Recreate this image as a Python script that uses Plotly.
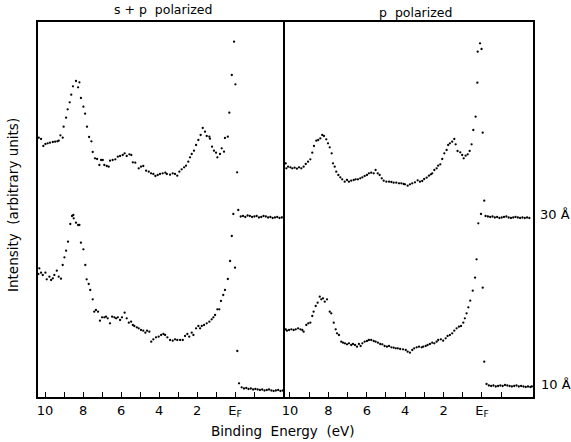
import plotly.graph_objects as go

# ---------------- data (binding energy in eV, intensity in arbitrary units) ----------------
# s+p polarized, 30 A
sp30_E = [10.33, 10.21, 10.09, 9.98, 9.86, 9.74, 9.59, 9.47, 9.35, 9.28, 9.19, 9.07, 9.02, 8.89, 8.81,
          8.70, 8.62, 8.53, 8.37, 8.26, 8.19, 8.11, 7.98, 7.89, 7.79, 7.68, 7.56, 7.49, 7.37, 7.26,
          7.14, 7.05, 6.96, 6.88, 6.75, 6.65, 6.58, 6.44, 6.30, 6.17, 6.05, 5.91, 5.81, 5.70, 5.56,
          5.46, 5.38, 5.25, 5.07, 4.95, 4.83, 4.68, 4.54, 4.42, 4.30, 4.19, 4.07, 3.95, 3.81, 3.67,
          3.59, 3.42, 3.28, 3.16, 3.04, 2.93, 2.81, 2.68, 2.58, 2.46, 2.37, 2.28, 2.16, 2.05, 1.93,
          1.81, 1.70, 1.58, 1.49, 1.35, 1.32, 1.21, 1.11, 1.00, 0.93, 0.79, 0.70, 0.58, 0.53, 0.38,
          0.30, 0.17, 0.05, -0.02, -0.11, -0.17,
          -0.30, -0.42, -0.54, -0.66, -0.78, -0.90, -1.02, -1.14, -1.26, -1.38, -1.50, -1.62, -1.74,
          -1.86, -1.98, -2.10, -2.22, -2.34, -2.46, -2.56]
sp30_I = [262.3, 261, 254, 256, 256.7, 257.3, 258, 258.3, 258.7, 259.3, 264.7, 262.3, 273.3, 282.3, 290.7,
          297.7, 305.3, 313.7, 319, 312.7, 317.7, 302, 293.3, 286.3, 273.3, 263, 258.7, 248, 241.7, 241,
          235, 240, 240, 235, 234, 233.3, 239.3, 240, 240.7, 243.3, 244, 245, 246.7, 244, 245.7,
          245, 237.7, 237.3, 231.7, 233.3, 234, 229.3, 228.3, 226.7, 226, 224, 225, 226, 226.7, 227.3,
          226, 225.3, 226.7, 226, 224.3, 228.3, 230.7, 232.7, 234.3, 238.3, 242.7, 246, 249.3, 255, 260,
          265, 272, 268.3, 264, 263.3, 261.3, 253.3, 249.3, 247.3, 242.7, 246, 251.7, 248.3, 262, 263.3,
          287.3, 325, 358.3, 315.7, 227.7, 190,
          183.5, 184, 183, 184.5, 184, 183, 183.5, 184, 182.5, 183, 184, 183.5, 182.5,
          183, 182, 182.5, 183, 182, 182.5, 183]

# s+p polarized, 10 A
sp10_E = [10.35, 10.30, 10.21, 10.12, 9.98, 9.91, 9.77, 9.68, 9.59, 9.51, 9.38, 9.28, 9.16, 9.07, 8.98,
          8.89, 8.79, 8.67, 8.58, 8.51, 8.49, 8.37, 8.26, 8.19, 8.11, 7.98, 7.88, 7.81, 7.70, 7.62,
          7.49, 7.41, 7.32, 7.21, 7.11, 7.00, 6.88, 6.79, 6.70, 6.58, 6.47, 6.35, 6.26, 6.17, 6.05,
          5.95, 5.81, 5.70, 5.59, 5.47, 5.38, 5.30, 5.17, 5.07, 4.95, 4.83, 4.72, 4.63, 4.51, 4.41,
          4.30, 4.16, 4.02, 3.89, 3.77, 3.68, 3.56, 3.42, 3.28, 3.16, 3.04, 2.89, 2.75, 2.63, 2.51,
          2.41, 2.28, 2.19, 2.05, 1.93, 1.84, 1.75, 1.63, 1.49, 1.35, 1.23, 1.14, 1.05, 0.93, 0.83,
          0.74, 0.62, 0.53, 0.38, 0.26, 0.17, 0.09, 0.00, -0.12, -0.21, -0.35,
          -0.47, -0.59, -0.71, -0.83, -0.95, -1.07, -1.19, -1.31, -1.43, -1.55, -1.67, -1.79, -1.91,
          -2.03, -2.15, -2.27, -2.39, -2.51, -2.58]
sp10_I = [126, 131.7, 127.3, 125, 127.3, 120.7, 123.3, 120, 121.7, 125, 129.3, 123.3, 121.3, 135, 142.7,
          149.3, 158.3, 176, 184, 185, 181.7, 177.3, 175, 175, 157.3, 150.7, 135, 120.7, 116, 110,
          100.7, 88.3, 90, 88.3, 79.3, 82.7, 82.7, 83.3, 81.7, 76.7, 83.3, 82.7, 81.7, 82.7, 80,
          82.7, 87.3, 81.7, 77.3, 78.3, 75, 74, 72.7, 71.7, 70, 69.3, 67.3, 69.3, 68.3, 58.3,
          60.7, 62.7, 63.3, 65, 66, 65, 62.7, 60, 59.3, 60.7, 60, 60, 60, 64, 66,
          63.3, 67.3, 65, 71.7, 74, 71.7, 74, 75, 76.7, 78.3, 80.7, 82.7, 85, 90.7, 90.7,
          99, 105, 110, 121, 139, 164, 186, 132.3, 49, 16.7, 12.7,
          11.5, 12, 11, 11.5, 10.5, 11, 10.5, 10, 10.5, 9.5, 10, 10.5, 9.5,
          9, 9.5, 10, 9, 9.5, 9]

# p polarized, 30 A
p30_E = [10.22, 10.19, 10.10, 9.98, 9.88, 9.76, 9.64, 9.53, 9.41, 9.29, 9.18, 9.06, 8.94, 8.84, 8.75,
         8.63, 8.53, 8.42, 8.32, 8.23, 8.11, 8.02, 7.93, 7.83, 7.76, 7.67, 7.59, 7.48, 7.38, 7.28,
         7.15, 7.03, 6.93, 6.81, 6.68, 6.58, 6.46, 6.34, 6.23, 6.11, 5.99, 5.89, 5.77, 5.64, 5.54,
         5.43, 5.33, 5.22, 5.12, 4.98, 4.84, 4.72, 4.60, 4.46, 4.32, 4.20, 4.08, 4.01, 3.87, 3.75,
         3.63, 3.49, 3.35, 3.23, 3.11, 3.01, 2.88, 2.76, 2.66, 2.59, 2.48, 2.36, 2.28, 2.17, 2.07,
         1.96, 1.84, 1.76, 1.67, 1.55, 1.44, 1.37, 1.27, 1.13, 1.03, 0.95, 0.85, 0.74, 0.64, 0.54,
         0.45, 0.33, 0.24, 0.22, 0.10, 0.02, -0.04, -0.12, -0.19,
         -0.31, -0.43, -0.55, -0.67, -0.79, -0.91, -1.03, -1.15, -1.27, -1.39, -1.51, -1.63, -1.75,
         -1.87, -1.99, -2.11, -2.23, -2.35, -2.47, -2.59]
p30_I = [236.7, 231.7, 233.3, 232.7, 231.7, 232.3, 231.3, 232.7, 231.7, 233.3, 236, 238.3, 240.7, 247.3, 254,
         259.3, 260, 261.7, 265, 264, 260.7, 256.7, 252.7, 246.7, 236.7, 233.3, 228.3, 225, 222.7, 220.7,
         218.3, 220, 218.3, 219.3, 220, 220.7, 220.7, 221.7, 222.7, 224, 225, 226.7, 227.3, 226.7, 230,
         226.7, 225, 221.7, 219.3, 218.3, 218.3, 218, 217.3, 217.3, 216.7, 216.7, 216, 215.7, 214.3, 215.7,
         216.7, 217.7, 219.7, 218.3, 219, 221, 222.3, 224.3, 225.7, 226.7, 230, 231.7, 234.3, 235.7, 241,
         246.7, 250, 255, 256.7, 258.3, 261, 255.7, 249, 247.7, 245, 241.7, 244.3, 245.7, 249, 255.7,
         270, 283.3, 317.3, 348.3, 356.7, 351, 267.3, 199.3, 184,
         183.5, 183, 183.5, 182.5, 183, 182, 182.5, 183, 183.5, 182.5, 182, 182.5, 183,
         182.5, 182, 182.5, 182, 182.5, 182]

# p polarized, 10 A
p10_E = [10.22, 10.16, 10.05, 9.93, 9.81, 9.70, 9.58, 9.46, 9.36, 9.29, 9.15, 9.05, 8.94, 8.84, 8.77,
         8.66, 8.56, 8.45, 8.37, 8.28, 8.19, 8.07, 7.93, 7.85, 7.72, 7.62, 7.55, 7.45, 7.33, 7.24,
         7.14, 7.03, 6.93, 6.81, 6.72, 6.61, 6.51, 6.41, 6.32, 6.23, 6.11, 5.99, 5.89, 5.77, 5.64,
         5.54, 5.42, 5.30, 5.19, 5.07, 4.95, 4.84, 4.72, 4.60, 4.49, 4.38, 4.26, 4.11, 3.97, 3.87,
         3.75, 3.63, 3.53, 3.40, 3.28, 3.14, 3.06, 2.93, 2.83, 2.71, 2.59, 2.48, 2.36, 2.28, 2.14,
         2.02, 1.89, 1.79, 1.67, 1.55, 1.44, 1.32, 1.20, 1.09, 0.97, 0.89, 0.80, 0.71, 0.61, 0.48,
         0.36, 0.28, 0.19, 0.05, -0.04, -0.12, -0.24,
         -0.36, -0.48, -0.60, -0.72, -0.84, -0.96, -1.08, -1.20, -1.32, -1.44, -1.56, -1.68, -1.80,
         -1.92, -2.04, -2.16, -2.28, -2.40, -2.52, -2.60]
p10_I = [70.7, 69.3, 70, 70.7, 70, 70.7, 71.7, 70.7, 70, 68.3, 75, 76.7, 77.3, 84, 88.3,
         94, 97.3, 103.3, 100.7, 101.7, 98.3, 100.7, 88.3, 86.7, 77.3, 70.7, 66.7, 65, 58.3, 57.3,
         56.7, 55.7, 56.7, 55, 56, 55, 53.3, 56, 54, 56.7, 58.3, 59, 60, 60, 59,
         58.3, 57.3, 56, 55.7, 54, 53.3, 54, 52.7, 52.3, 51.7, 51.7, 51, 50.7, 50, 48.3,
         47.3, 50, 51.7, 52.7, 53.3, 52.7, 53.3, 54, 55, 56, 57.3, 56.7, 58.3, 60, 60.7,
         59.3, 61.7, 64, 65, 66.7, 69.3, 71.7, 73.3, 74, 77.3, 81.7, 86.7, 92.7, 99.3, 109.3,
         122.3, 140.7, 176.7, 186, 112.3, 38.3, 16,
         14.5, 14, 14.5, 13.5, 14, 14.5, 14, 15, 14.5, 14, 13.5, 14, 14.5,
         13.5, 14, 13.5, 13, 13.5, 13, 13.5]

major_vals = [10, 8, 6, 4, 2, 0]
major_text = ["10", "8", "6", "4", "2", "E<sub>F</sub>"]
minor_vals = [9, 7, 5, 3, 1, -1]

FONT = "DejaVu Sans"
mk = dict(color="black", size=2.3)

fig = go.Figure()
fig.add_trace(go.Scatter(x=sp30_E, y=sp30_I, mode="markers", marker=mk, xaxis="x", yaxis="y"))
fig.add_trace(go.Scatter(x=sp10_E, y=sp10_I, mode="markers", marker=mk, xaxis="x", yaxis="y"))
fig.add_trace(go.Scatter(x=p30_E, y=p30_I, mode="markers", marker=mk, xaxis="x2", yaxis="y2"))
fig.add_trace(go.Scatter(x=p10_E, y=p10_I, mode="markers", marker=mk, xaxis="x2", yaxis="y2"))

xcommon = dict(showline=True, linecolor="black", linewidth=1.8, mirror=True,
               ticks="inside", ticklen=5, tickwidth=1.3, tickcolor="black",
               tickmode="array", tickvals=major_vals, ticktext=major_text,
               minor=dict(tickmode="array", tickvals=minor_vals, ticks="inside", ticklen=5,
                          tickwidth=1.3, tickcolor="black", showgrid=False),
               showgrid=False, zeroline=False,
               tickfont=dict(family=FONT, size=13, color="black"))
ycommon = dict(showline=True, linecolor="black", linewidth=1.8,
               showticklabels=False, ticks="", showgrid=False, zeroline=False,
               range=[3, 378])

fig.update_layout(
    width=571, height=442,
    margin=dict(l=38, r=38, t=22, b=45),
    paper_bgcolor="white", plot_bgcolor="white",
    showlegend=False,
    xaxis=dict(domain=[0, 0.499], range=[10.37, -2.63], anchor="y", **xcommon),
    xaxis2=dict(domain=[0.499, 1], range=[10.26, -2.66], anchor="y2", **xcommon),
    yaxis=dict(anchor="x", mirror=False, **ycommon),
    yaxis2=dict(anchor="x2", matches="y", mirror=True, **ycommon),
    font=dict(family=FONT, color="black"),
)

ann = [
    dict(text="s + p  polarized", x=(163 - 38) / 495, y=(397 - 10) / 375, size=12.5),
    dict(text="p  polarized", x=(415 - 38) / 495, y=(397 - 12) / 375, size=12.5),
    dict(text="Binding  Energy  (eV)", x=(283 - 38) / 495, y=(397 - 431) / 375, size=13.5),
    dict(text="30 Å", x=(555 - 38) / 495, y=(397 - 215) / 375, size=13),
    dict(text="10 Å", x=(556 - 38) / 495, y=(397 - 384) / 375, size=13),
]
for a in ann:
    fig.add_annotation(text=a["text"], x=a["x"], y=a["y"], xref="paper", yref="paper",
                       showarrow=False, font=dict(family=FONT, size=a["size"], color="black"),
                       xanchor="center", yanchor="middle")
fig.add_annotation(text="Intensity  (arbitrary units)", x=(13 - 38) / 495, y=(397 - 205) / 375,
                   xref="paper", yref="paper", showarrow=False, textangle=-90,
                   font=dict(family=FONT, size=13.5, color="black"), xanchor="center", yanchor="middle")

fig.write_html("out.html")
